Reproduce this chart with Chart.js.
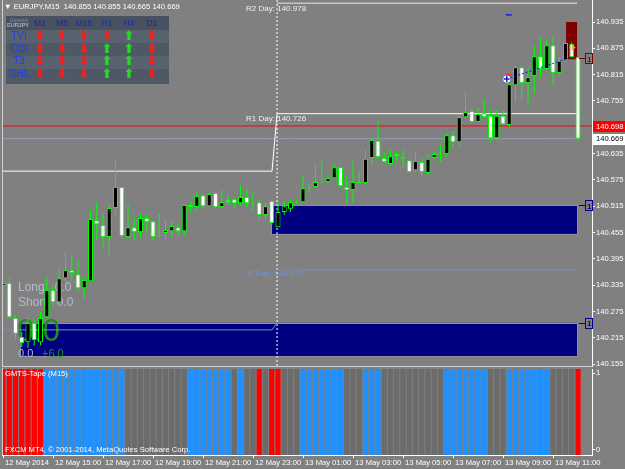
<!DOCTYPE html>
<html>
<head>
<meta charset="utf-8">
<script src="https://cdn.jsdelivr.net/npm/chart.js@4.4.0/dist/chart.umd.min.js"></script>
<style>
html, body { margin: 0; padding: 0; background: #808080; overflow: hidden; }
#wrap { position: relative; width: 625px; height: 469px; font-family: "Liberation Sans", Arial, sans-serif; }
#mainChart { position: absolute; left: 0; top: 0; }
#tapeChart { position: absolute; left: 0; top: 367px; }
#hdr { position: absolute; left: 4px; top: 1px; color: #fff; font-size: 7.6px; white-space: pre; line-height: 12px; }
#sig { position: absolute; left: 6px; top: 16px; width: 163px; height: 68px; background: #4d5765; }
#sig .row { position: absolute; left: 0; width: 163px; }
#sig span { position: absolute; transform: translate(-50%, -50%); white-space: nowrap; }
</style>
</head>
<body>
<div id="wrap">
  <canvas id="mainChart" width="625" height="372"></canvas>
  <canvas id="tapeChart" width="625" height="102"></canvas>
  <div id="hdr"></div>
  <div id="sig"></div>
</div>
<script>
// EURJPY M15 candles, 12 May 13:00 -> 13 May 12:00
const candleOpen = [
  140.333, 140.340, 140.260, 140.217, 140.205, 140.249, 140.205, 140.262, 140.324, 140.296,
  140.351, 140.369, 140.360, 140.328, 140.344, 140.483, 140.472, 140.445, 140.511, 140.559,
  140.445, 140.467, 140.456, 140.488, 140.481, 140.450, 140.454, 140.458, 140.467, 140.458,
  140.518, 140.513, 140.540, 140.515, 140.545, 140.513, 140.529, 140.531, 140.522, 140.536,
  140.523, 140.524, 140.495, 140.527, 140.467, 140.502, 140.509, 140.522, 140.524, 140.558,
  140.559, 140.571, 140.570, 140.579, 140.604, 140.559, 140.552, 140.570, 140.568, 140.625,
  140.664, 140.625, 140.611, 140.634, 140.627, 140.620, 140.597, 140.616, 140.591, 140.625,
  140.635, 140.634, 140.677, 140.661, 140.718, 140.732, 140.707, 140.727, 140.721, 140.670,
  140.721, 140.700, 140.791, 140.832, 140.796, 140.812, 140.857, 140.828, 140.882, 140.819,
  140.848, 140.885, 140.855
];
const candleHigh = [
  140.347, 140.351, 140.267, 140.228, 140.262, 140.255, 140.274, 140.353, 140.335, 140.374,
  140.408, 140.404, 140.392, 140.351, 140.506, 140.524, 140.499, 140.518, 140.623, 140.559,
  140.518, 140.488, 140.499, 140.497, 140.483, 140.497, 140.483, 140.483, 140.477, 140.518,
  140.524, 140.547, 140.545, 140.547, 140.547, 140.552, 140.540, 140.534, 140.563, 140.554,
  140.547, 140.529, 140.522, 140.531, 140.522, 140.527, 140.529, 140.529, 140.584, 140.568,
  140.611, 140.620, 140.584, 140.611, 140.604, 140.584, 140.618, 140.597, 140.643, 140.670,
  140.711, 140.638, 140.643, 140.641, 140.643, 140.623, 140.638, 140.625, 140.636, 140.638,
  140.654, 140.682, 140.686, 140.723, 140.775, 140.739, 140.739, 140.757, 140.734, 140.734,
  140.732, 140.793, 140.835, 140.835, 140.832, 140.880, 140.901, 140.896, 140.901, 140.855,
  140.887, 140.889, 140.855
];
const candleLow = [
  140.324, 140.260, 140.210, 140.194, 140.192, 140.198, 140.198, 140.260, 140.285, 140.294,
  140.342, 140.342, 140.324, 140.306, 140.342, 140.438, 140.422, 140.399, 140.495, 140.442,
  140.445, 140.438, 140.442, 140.456, 140.438, 140.445, 140.440, 140.445, 140.449, 140.449,
  140.502, 140.506, 140.511, 140.515, 140.511, 140.511, 140.518, 140.511, 140.518, 140.513,
  140.506, 140.483, 140.483, 140.472, 140.467, 140.495, 140.502, 140.520, 140.522, 140.547,
  140.556, 140.566, 140.568, 140.579, 140.559, 140.520, 140.522, 140.568, 140.563, 140.609,
  140.625, 140.613, 140.609, 140.618, 140.602, 140.591, 140.595, 140.581, 140.588, 140.623,
  140.616, 140.627, 140.648, 140.652, 140.716, 140.705, 140.707, 140.718, 140.661, 140.666,
  140.700, 140.695, 140.752, 140.757, 140.746, 140.773, 140.807, 140.825, 140.791, 140.816,
  140.844, 140.853, 140.665
];
const candleClose = [
  140.340, 140.262, 140.224, 140.203, 140.249, 140.210, 140.260, 140.324, 140.296, 140.351,
  140.369, 140.363, 140.328, 140.347, 140.486, 140.474, 140.445, 140.511, 140.559, 140.447,
  140.467, 140.456, 140.488, 140.479, 140.445, 140.448, 140.461, 140.470, 140.458, 140.518,
  140.513, 140.538, 140.515, 140.543, 140.513, 140.524, 140.524, 140.522, 140.536, 140.522,
  140.521, 140.495, 140.515, 140.477, 140.502, 140.515, 140.524, 140.524, 140.556, 140.556,
  140.570, 140.569, 140.579, 140.604, 140.561, 140.552, 140.570, 140.567, 140.623, 140.666,
  140.627, 140.616, 140.629, 140.629, 140.623, 140.593, 140.618, 140.593, 140.623, 140.634,
  140.633, 140.677, 140.661, 140.718, 140.730, 140.707, 140.725, 140.718, 140.670, 140.721,
  140.702, 140.793, 140.832, 140.796, 140.809, 140.857, 140.828, 140.882, 140.819, 140.846,
  140.887, 140.855, 140.669
];

// GMTS-Tape state per bar: R = red, B = blue, G = grey
const tapeState = [
  'R','R','R','R','R','R','R','B','B','B','B','B','B','B','B','B','B','B','B','B',
  'G','G','G','G','G','G','G','G','G','G','B','B','B','B','B','B','B','G','B','G',
  'G','R','G','R','R','G','G','G','B','B','B','B','B','B','B','G','G','G','B','B',
  'B','G','G','G','G','G','G','G','G','G','G','B','B','B','B','B','B','B','G','G',
  'G','B','B','B','B','B','B','B','G','G','G','G','R'
];

const priceTicks = [140.155, 140.215, 140.275, 140.335, 140.395, 140.455, 140.515, 140.575,
  140.635, 140.695, 140.755, 140.815, 140.875, 140.935];
const tapeTicks = [0, 1];
const timeTickIdx = [0, 8, 16, 24, 32, 40, 48, 56, 64, 72, 80, 88];
const timeTickLabels = ['12 May 2014', '12 May 15:00', '12 May 17:00', '12 May 19:00', '12 May 21:00',
  '12 May 23:00', '13 May 01:00', '13 May 03:00', '13 May 05:00', '13 May 07:00', '13 May 09:00', '13 May 11:00'];

// pivot levels and objects (bar index / price)
const dayStart = 43.85;
const prevDayEnd = 43.04;
const lastIdx = 91.85;
const r2Day = 140.978, r1Day = 140.726, r1Prev = 140.595;
const pDay = 140.370, pPrev = 140.233, pPrevStep = 140.249;
const redLevel = 140.698, bidLevel = 140.669;
const zoneFrom = [42.9, 2.7];
const zoneTo = [91.85, 91.85];
const zoneTop = [140.517, 140.249];
const zoneBottom = [140.452, 140.173];
const alertFrom = 90.1, alertTo = 91.85, alertTop = 140.935, alertBottom = 140.850;
const trendX = [80.6, 91.0];
const trendY = [140.805, 140.855];

const sigCols = ['M1', 'M5', 'M15', 'H1', 'H4', 'D1'];
const sigRows = ['TVI', 'CCI', 'T3', 'GHL'];
const sigDirs = [
  ['d', 'd', 'd', 'd', 'u', 'd'],
  ['d', 'd', 'd', 'u', 'u', 'd'],
  ['d', 'd', 'd', 'u', 'u', 'd'],
  ['d', 'd', 'd', 'u', 'u', 'd']
];

const LIME = '#00ff00';
const FONT = '"Liberation Sans", Arial, sans-serif';
const X_MIN = -0.16, X_MAX = 94.24;
const TAPE_LOW = -0.065, TAPE_HIGH = 1.052;
const TAPE_COLOR = { R: '#ff0000', B: '#1e90ff', G: '#6b6b6b' };

function fixRightAxis(scale) {
  scale.width = 33;
  scale.paddingTop = 0;
  scale.paddingBottom = 0;
}

function levelLine(points, color, extra) {
  return Object.assign({
    type: 'line', data: points, borderColor: color, borderWidth: 1,
    pointRadius: 0, fill: false, tension: 0, order: 5
  }, extra || {});
}

function priceTag(ctx, scale, value, bg, fg) {
  const y = scale.getPixelForValue(value);
  ctx.fillStyle = bg;
  ctx.fillRect(scale.left + 1, Math.round(y) - 5, 32, 11);
  ctx.fillStyle = fg;
  ctx.font = '7.6px ' + FONT;
  ctx.textBaseline = 'middle';
  ctx.textAlign = 'left';
  ctx.fillText(value.toFixed(3), scale.left + 4, y + 0.5);
}

function markerBox(ctx, x, area, y, color) {
  ctx.strokeStyle = color;
  ctx.lineWidth = 1;
  ctx.beginPath();
  ctx.moveTo(x, Math.round(y) + 0.5);
  ctx.lineTo(area.right - 6, Math.round(y) + 0.5);
  ctx.stroke();
  ctx.strokeRect(area.right - 6.5, Math.round(y) - 4.5, 7, 10);
  ctx.fillStyle = color;
  ctx.font = 'bold 8px ' + FONT;
  ctx.textAlign = 'left';
  ctx.textBaseline = 'middle';
  ctx.fillText('1', area.right - 5, y + 1);
}

const mainOverlay = {
  id: 'mainOverlay',
  beforeDatasetsDraw(chart) {
    const { ctx, chartArea: a, scales: { x, y } } = chart;
    ctx.save();
    // zone rectangles (background objects)
    zoneFrom.forEach((f, i) => {
      const x0 = x.getPixelForValue(f), x1 = x.getPixelForValue(zoneTo[i]);
      const y0 = y.getPixelForValue(zoneTop[i]), y1 = y.getPixelForValue(zoneBottom[i]);
      ctx.fillStyle = '#000080';
      ctx.fillRect(x0, y0, x1 - x0, y1 - y0);
      ctx.strokeStyle = '#8e8e9e';
      ctx.lineWidth = 1;
      ctx.strokeRect(Math.round(x0) + 0.5, Math.round(y0) + 0.5, Math.round(x1 - x0), Math.round(y1 - y0));
    });
    const ax0 = x.getPixelForValue(alertFrom), ax1 = x.getPixelForValue(alertTo);
    const ay0 = y.getPixelForValue(alertTop), ay1 = y.getPixelForValue(alertBottom);
    ctx.fillStyle = '#800000';
    ctx.fillRect(ax0, ay0, ax1 - ax0, ay1 - ay0);

    // pivot texts
    const sx = x.getPixelForValue(dayStart);
    ctx.font = '8px ' + FONT;
    ctx.textBaseline = 'top';
    ctx.textAlign = 'left';
    ctx.fillStyle = '#f0f0f0';
    ctx.fillText('R2 Day: ' + r2Day.toFixed(3), sx - 31, y.getPixelForValue(r2Day) + 2);
    ctx.fillText('R1 Day: ' + r1Day.toFixed(3), sx - 31, y.getPixelForValue(r1Day) + 1);
    ctx.fillStyle = '#6e93dc';
    ctx.fillText('P Day: ' + pDay.toFixed(3), sx - 29, y.getPixelForValue(pDay) + 0);

    // trade panel texts
    ctx.textBaseline = 'middle';
    ctx.fillStyle = '#b4b9d6';
    ctx.font = '12px ' + FONT;
    ctx.fillText('Long:  0.0', 18, 288);
    ctx.fillText('Short:  0.0', 18, 303);
    ctx.font = '11px ' + FONT;
    ctx.fillText('0.0', 18, 354);
    ctx.fillStyle = '#1f8c1f';
    ctx.fillText('+6.0', 42, 354);
    ctx.font = '31px ' + FONT;
    ctx.fillText('0.0', 17, 332);
    ctx.restore();
  },
  afterDatasetsDraw(chart) {
    const { ctx, chartArea: a, scales: { x, y } } = chart;
    ctx.save();
    // small markers near the trend line
    const mx = x.getPixelForValue(trendX[0]), my = y.getPixelForValue(trendY[0]);
    ctx.fillStyle = '#ffffff';
    ctx.beginPath(); ctx.arc(mx, my, 3.5, 0, Math.PI * 2); ctx.fill();
    ctx.strokeStyle = '#1020e0'; ctx.lineWidth = 1.5;
    ctx.beginPath(); ctx.moveTo(mx - 3, my); ctx.lineTo(mx + 3, my); ctx.moveTo(mx, my - 3); ctx.lineTo(mx, my + 3); ctx.stroke();
    ctx.fillStyle = '#ff2020'; ctx.fillRect(mx - 1, my - 5, 6, 1.5);
    ctx.fillStyle = '#1020e0'; ctx.fillRect(mx - 1, y.getPixelForValue(140.953), 6, 1.5);
    const ox = x.getPixelForValue(trendX[1]), oy = y.getPixelForValue(140.877);
    ctx.fillStyle = '#f0a040';
    ctx.beginPath(); ctx.moveTo(ox, oy - 3); ctx.lineTo(ox + 4, oy); ctx.lineTo(ox, oy + 3); ctx.closePath(); ctx.fill();

    // "1" marker boxes at the right edge
    const ex = x.getPixelForValue(92.15);
    markerBox(ctx, ex, a, y.getPixelForValue(zoneTop[0]), '#000090');
    markerBox(ctx, ex, a, y.getPixelForValue(zoneTop[1]), '#000090');
    markerBox(ctx, ex, a, y.getPixelForValue(140.852), '#800000');
    ctx.restore();
  },
  afterDraw(chart) {
    const { ctx, chartArea: a, scales: { y } } = chart;
    ctx.save();
    ctx.strokeStyle = '#d0d0d0';
    ctx.lineWidth = 1;
    ctx.beginPath();
    ctx.moveTo(a.left + 0.5, a.top);
    ctx.lineTo(a.left + 0.5, a.bottom + 1);
    ctx.moveTo(a.left, a.bottom + 0.5);
    ctx.lineTo(a.right, a.bottom + 0.5);
    ctx.stroke();
    priceTag(ctx, y, redLevel, '#ff0000', '#ffffff');
    priceTag(ctx, y, bidLevel, '#ffffff', '#000000');
    ctx.restore();
  }
};

const mainChart = new Chart(document.getElementById('mainChart'), {
  type: 'bar',
  data: {
    datasets: [
      {
        type: 'bar', label: 'wick',
        data: candleLow.map((l, i) => ({ x: i, y: [l, candleHigh[i]] })),
        backgroundColor: LIME, barThickness: 1, grouped: false, inflateAmount: 0, order: 2
      },
      {
        type: 'bar', label: 'body',
        data: candleOpen.map((o, i) => ({ x: i, y: [o, candleClose[i]] })),
        backgroundColor: candleOpen.map((o, i) => candleClose[i] >= o ? '#000000' : '#ffffff'),
        borderColor: LIME, borderWidth: 1, borderSkipped: false,
        barThickness: 5, grouped: false, inflateAmount: 0, order: 1
      },
      levelLine([{ x: dayStart, y: r2Day }, { x: lastIdx, y: r2Day }], '#e8e8e8'),
      levelLine([{ x: X_MIN, y: r1Prev }, { x: prevDayEnd, y: r1Prev }, { x: dayStart, y: r1Day }, { x: lastIdx, y: r1Day }], '#ffffff'),
      levelLine([{ x: dayStart, y: pDay }, { x: lastIdx, y: pDay }], '#6b8ed6'),
      levelLine([{ x: X_MIN, y: pPrev }, { x: prevDayEnd, y: pPrev }, { x: dayStart, y: pPrevStep }], '#6b8ed6'),
      levelLine([{ x: X_MIN, y: redLevel }, { x: X_MAX, y: redLevel }], '#ff0000'),
      levelLine([{ x: X_MIN, y: bidLevel }, { x: lastIdx, y: bidLevel }], '#8e9db8'),
      levelLine([{ x: dayStart, y: 140.9852 }, { x: dayStart, y: 140.1507 }], '#ffffff', { borderDash: [2, 2] }),
      levelLine(trendX.map((v, i) => ({ x: v, y: trendY[i] })), '#1010ff', { borderDash: [2, 2], order: 0 })
    ]
  },
  options: {
    responsive: false,
    animation: false,
    events: [],
    layout: { padding: { left: 2, right: 0, top: 0, bottom: 6 } },
    plugins: { legend: { display: false }, tooltip: { enabled: false } },
    scales: {
      x: { type: 'linear', min: X_MIN, max: X_MAX, offset: false, display: false },
      y: {
        type: 'linear', position: 'right', min: 140.1507, max: 140.9852,
        afterBuildTicks: s => { s.ticks = priceTicks.map(v => ({ value: v })); },
        afterFit: fixRightAxis,
        ticks: { color: '#ffffff', font: { size: 7.6, family: FONT }, padding: 1, callback: v => v.toFixed(3) },
        grid: { drawOnChartArea: false, color: '#ffffff', tickLength: 3 },
        border: { color: '#ffffff' }
      }
    }
  },
  plugins: [mainOverlay]
});

const tapeOverlay = {
  id: 'tapeOverlay',
  afterDatasetsDraw(chart) {
    const { ctx, chartArea: a } = chart;
    ctx.save();
    ctx.fillStyle = '#ffffff';
    ctx.font = '7.6px ' + FONT;
    ctx.textBaseline = 'middle';
    ctx.textAlign = 'left';
    ctx.fillText('GMTS-Tape (M15)', 5, a.top + 5);
    ctx.fillText('FXCM MT4, \u00a9 2001-2014, MetaQuotes Software Corp.', 5, a.bottom - 5);
    ctx.strokeStyle = '#d0d0d0';
    ctx.beginPath();
    ctx.moveTo(a.left + 0.5, a.top - 1);
    ctx.lineTo(a.left + 0.5, a.bottom);
    ctx.stroke();
    ctx.restore();
  }
};

const tapeChart = new Chart(document.getElementById('tapeChart'), {
  type: 'bar',
  data: {
    datasets: [{
      data: tapeState.map((s, i) => ({ x: i, y: [TAPE_LOW, TAPE_HIGH] })),
      backgroundColor: tapeState.map(s => TAPE_COLOR[s]),
      barThickness: 5.25, grouped: false, borderWidth: 0, inflateAmount: 0
    }]
  },
  options: {
    responsive: false,
    animation: false,
    events: [],
    layout: { padding: { left: 2, right: 0, top: 2, bottom: 0 } },
    plugins: { legend: { display: false }, tooltip: { enabled: false } },
    scales: {
      x: {
        type: 'linear', min: X_MIN, max: X_MAX, offset: false,
        afterBuildTicks: s => { s.ticks = timeTickIdx.map(v => ({ value: v })); },
        afterFit: s => { s.height = 14; s.paddingLeft = 0; s.paddingRight = 0; },
        ticks: {
          color: '#ffffff', font: { size: 7.6, family: FONT }, align: 'start',
          maxRotation: 0, autoSkip: false, padding: 0,
          callback: (v, i) => ' ' + timeTickLabels[i]
        },
        grid: { drawOnChartArea: false, offset: false, color: '#ffffff', tickLength: 3 },
        border: { color: '#ffffff' }
      },
      y: {
        type: 'linear', position: 'right', min: TAPE_LOW, max: TAPE_HIGH,
        afterBuildTicks: s => { s.ticks = tapeTicks.map(v => ({ value: v })); },
        afterFit: fixRightAxis,
        ticks: { color: '#ffffff', font: { size: 7.6, family: FONT }, padding: 1 },
        grid: { drawOnChartArea: false, color: '#ffffff', tickLength: 3 },
        border: { color: '#ffffff' }
      }
    }
  },
  plugins: [tapeOverlay]
});

// header line
const last = candleOpen.length - 1;
document.getElementById('hdr').textContent = '\u25BC EURJPY,M15  ' +
  [candleOpen[last], candleHigh[last], candleLow[last], candleClose[last]].map(v => v.toFixed(3)).join(' ');

// signal matrix panel
const sig = document.getElementById('sig');
const colX = [34, 56, 78, 101, 123, 146];
const rowY = [20, 35, 48, 60, 73];
const rowBg = ['#475160', '#58626f', '#4f5966', '#58626f', '#4f5966'];
const rowH = [14, 13, 13, 13, 14];
let rowTop = 0;
rowBg.forEach((c, r) => {
  const d = document.createElement('div');
  d.className = 'row';
  d.style.top = rowTop + 'px';
  d.style.height = rowH[r] + 'px';
  d.style.background = c;
  sig.appendChild(d);
  rowTop += rowH[r];
});
function addSpan(text, x, y, css) {
  const s = document.createElement('span');
  s.textContent = text;
  s.style.cssText = css;
  s.style.left = x + 'px';
  s.style.top = y + 'px';
  sig.appendChild(s);
}
addSpan('Genesis', 13, 3.5, 'font-size:5px;color:#8891a0;');
addSpan('EURJPY', 12, 9, 'font-size:5.5px;font-weight:bold;color:#aab3c2;');
sigCols.forEach((c, i) => addSpan(c, colX[i], 7, 'font-size:8.5px;color:#1c2a96;'));
sigRows.forEach((r, j) => {
  addSpan(r, 13, rowY[j + 1] - 16, 'font-size:10px;color:#1e3cf5;');
  sigDirs[j].forEach((d, i) => {
    addSpan(d === 'u' ? '\u2B06' : '\u2B07', colX[i], rowY[j + 1] - 16,
      'font-family:"DejaVu Sans";font-weight:bold;font-size:13px;line-height:13px;color:' + (d === 'u' ? '#22dd22' : '#ff1a1a') + ';');
  });
});
</script>
</body>
</html>
